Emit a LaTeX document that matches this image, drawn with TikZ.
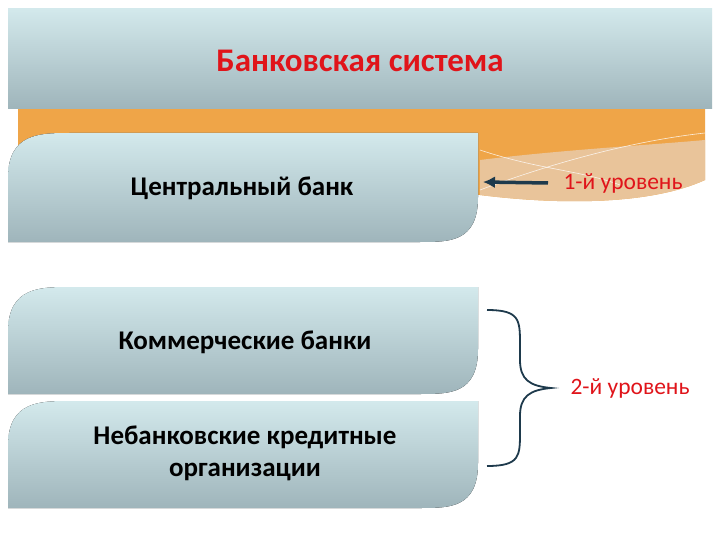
\documentclass[tikz,border=0pt]{standalone}
\usepackage{fontspec}
\setmainfont{Carlito}
\usetikzlibrary{arrows.meta}
\begin{document}
\begin{tikzpicture}[x=1pt,y=-1pt,
  leaf/.style={top color=blueA,bottom color=blueB,draw=none},
  lbl/.style={font=\bfseries\fontsize{27}{32}\selectfont,align=center,text=black},
  red/.style={text=redT,font=\fontsize{23.5}{28}\selectfont}]
\definecolor{blueA}{HTML}{D3E9EC}
\definecolor{blueB}{HTML}{9FB5BB}
\definecolor{orangeA}{HTML}{EFA548}
\definecolor{tanA}{HTML}{E9C49A}
\definecolor{redT}{HTML}{E0141A}
\definecolor{navy}{HTML}{1E3A4C}
\useasboundingbox (0,0) rectangle (720,540);
\fill[white] (0,0) rectangle (720,540);
% orange band
\fill[orangeA] (18,100) -- (705,100) -- (705,180) .. controls (650,205) and (560,205) .. (480,195) -- (18,195) -- cycle;
\fill[tanA] (480,160) .. controls (560,150) and (650,145) .. (705,140) -- (705,180) .. controls (650,205) and (560,205) .. (480,195) -- cycle;
\draw[white,opacity=.8,line width=.6] (480,150) .. controls (540,170) and (580,170) .. (620,185);
\draw[white,opacity=.8,line width=.6] (480,190) .. controls (560,160) and (640,140) .. (705,133);
% header
\node[fill=none,inner sep=0,minimum width=704,minimum height=100,top color=blueA,bottom color=blueB,anchor=north west] (hdr) at (8,8) {};
\node[text=redT,font=\bfseries\fontsize{33}{38}\selectfont] (t) at (360,61) {Банковская система};
% leaf boxes
\foreach \n/\ya/\yb in {b1/133/242,b2/287/394,b3/401/508}{
  \fill[leaf] (8,\yb) -- (8,\ya+45) .. controls (8,\ya) and (40,\ya) .. (70,\ya) -- (478,\ya) -- (478,\yb-45) .. controls (478,\yb) and (450,\yb) .. (420,\yb) -- cycle;
}
\node[lbl] (c1) at (242,188) {Центральный банк};
\node[lbl] (c2) at (245,342) {Коммерческие банки};
\node[lbl] (c3) at (245,453) {Небанковские кредитные\\организации};
\node[red,anchor=west] (l1) at (560,183) {1-й уровень};
\node[red,anchor=west] (l2) at (567,388) {2-й уровень};
\coordinate (ae) at (483,182);
\draw[navy,line width=3.5,-{Latex[length=12,width=12]}] (l1.west)++(-12,0) -- (ae);
\draw[navy,line width=1.8] (487,310) .. controls (520,310) and (520,320) .. (520,345) -- (520,360) .. controls (520,380) and (530,386) .. (551,388)
  .. controls (530,390) and (520,396) .. (520,416) -- (520,432) .. controls (520,456) and (520,466) .. (487,466);
\end{tikzpicture}
\end{document}
